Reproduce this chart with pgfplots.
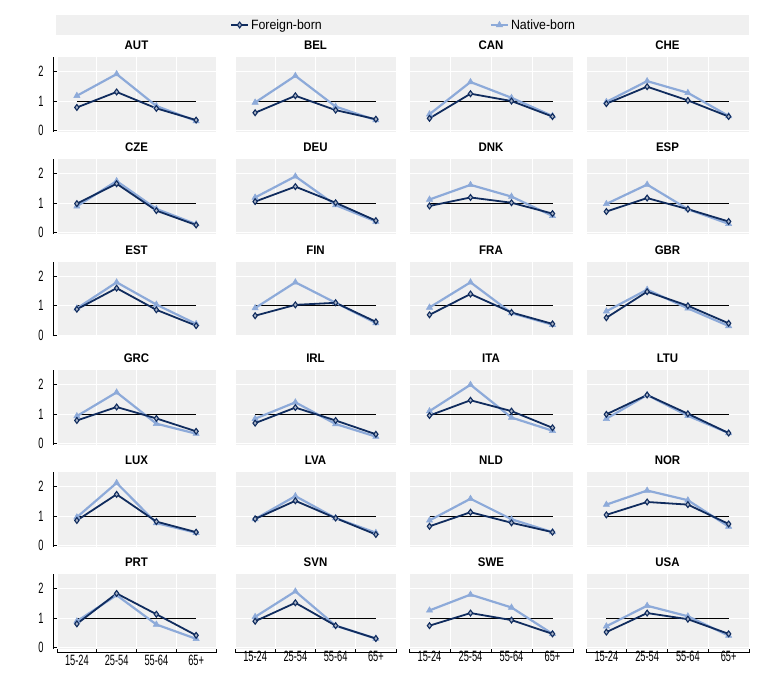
\documentclass[border=0pt]{standalone}
\usepackage{fontspec}
\setmainfont{Liberation Sans}[FakeStretch=0.92]
\newfontfamily\narrowfont{Liberation Sans}[FakeStretch=0.62]
\usepackage{pgfplots}
\pgfplotsset{compat=1.18}
\definecolor{fb}{RGB}{16,44,94}
\definecolor{nb}{RGB}{141,170,217}
\definecolor{bg}{RGB}{240,240,240}
\pgfplotsset{
  panel/.style={
    scale only axis, height=74.7bp, anchor=south west,
    xmin=-0.5, xmax=3.5, ymin=-0.05, ymax=2.5,
    xtick={0,1,2,3}, minor xtick={-0.5,0.5,1.5,2.5,3.5},
    ytick={0,1,2},
    xticklabels={}, yticklabels={},
    axis background/.style={fill=bg},
    ymajorgrids, xminorgrids,
    major grid style={white, line width=1bp},
    minor grid style={white, line width=1bp},
    axis x line*=bottom, axis y line*=left,
    x axis line style={draw=none}, y axis line style={draw=none},
    tick align=outside, major tick length=0pt, minor tick length=0pt,
    major x tick style={draw=none},
    tick style={black, line width=0.8bp},
    ticklabel style={font=\narrowfont\fontsize{15}{17}\selectfont, text=black},
    title style={at={(0.5,1)}, anchor=south, inner sep=1bp, font=\bfseries\fontsize{12.5}{14}\selectfont},
    clip=false,
  },
  leftcol/.style={y axis line style={draw=black, line width=0.8bp, xshift=-4bp}, major tick length=4bp, yticklabels={0,1,2}, yticklabel style={xshift=-6bp}},
  botrow/.style={x axis line style={draw=black, line width=0.8bp, yshift=-4bp}, minor tick length=4bp, xticklabels={15-24,25-54,55-64,65+}, xticklabel style={yshift=1.5bp}},
  refline/.style={black, line width=1bp, no marks, forget plot},
  foreign/.style={fb, line width=1.8bp, mark=diamond*, mark size=2.9bp, mark options={fill=fb!35!white, line width=1.1bp, solid}},
  native/.style={nb, line width=2.2bp, mark=triangle*, mark size=3.6bp, mark options={fill=nb, line width=0.5bp, solid}},
}
\newcommand{\panel}[8]{%
\begin{axis}[panel, at={(#1bp,#2bp)}, width=#3bp, title={#4}, #5]
\addplot[refline] coordinates {(0,1) (3,1)};
\addplot[native] coordinates {#7};
\addplot[foreign] coordinates {#6};
#8
\end{axis}}
\begin{document}
\begin{tikzpicture}
\path[use as bounding box] (0,0) rectangle (783bp,676bp);
\fill[bg] (56bp,641bp) rectangle (749bp,661bp);
% row 1
\panel{57}{544.2}{159}{AUT}{leftcol, reverse legend, legend columns=2,
  legend style={at={(2.18,1.43)}, anchor=center, draw=none, fill=none, font=\fontsize{13.5}{16}\selectfont, /tikz/every even column/.append style={column sep=166bp}}}
  {(0,0.78) (1,1.31) (2,0.75) (3,0.35)}{(0,1.18) (1,1.92) (2,0.83) (3,0.32)}{\legend{Native-born,Foreign-born}}
\panel{235}{544.2}{161}{BEL}{}{(0,0.60) (1,1.18) (2,0.69) (3,0.38)}{(0,0.95) (1,1.86) (2,0.81) (3,0.35)}{}
\panel{409}{544.2}{164}{CAN}{}{(0,0.41) (1,1.25) (2,1.00) (3,0.47)}{(0,0.55) (1,1.65) (2,1.11) (3,0.49)}{}
\panel{586}{544.2}{163}{CHE}{}{(0,0.91) (1,1.49) (2,1.02) (3,0.47)}{(0,0.97) (1,1.68) (2,1.28) (3,0.49)}{}
% row 2
\panel{57}{442.2}{159}{CZE}{leftcol}{(0,0.98) (1,1.66) (2,0.74) (3,0.25)}{(0,0.89) (1,1.75) (2,0.80) (3,0.28)}{}
\panel{235}{442.2}{161}{DEU}{}{(0,1.05) (1,1.56) (2,1.01) (3,0.40)}{(0,1.19) (1,1.91) (2,0.93) (3,0.37)}{}
\panel{409}{442.2}{164}{DNK}{}{(0,0.90) (1,1.19) (2,1.01) (3,0.64)}{(0,1.12) (1,1.62) (2,1.22) (3,0.56)}{}
\panel{586}{442.2}{163}{ESP}{}{(0,0.71) (1,1.17) (2,0.79) (3,0.37)}{(0,0.97) (1,1.63) (2,0.79) (3,0.29)}{}
% row 3
\panel{57}{339.5}{159}{EST}{leftcol}{(0,0.88) (1,1.60) (2,0.86) (3,0.32)}{(0,0.91) (1,1.80) (2,1.04) (3,0.38)}{}
\panel{235}{339.5}{161}{FIN}{}{(0,0.66) (1,1.03) (2,1.10) (3,0.45)}{(0,0.92) (1,1.80) (2,1.10) (3,0.41)}{}
\panel{409}{339.5}{164}{FRA}{}{(0,0.69) (1,1.40) (2,0.77) (3,0.38)}{(0,0.94) (1,1.80) (2,0.75) (3,0.35)}{}
\panel{586}{339.5}{163}{GBR}{}{(0,0.59) (1,1.48) (2,1.00) (3,0.40)}{(0,0.81) (1,1.55) (2,0.91) (3,0.31)}{}
% row 4
\panel{57}{231.2}{159}{GRC}{leftcol}{(0,0.78) (1,1.24) (2,0.85) (3,0.41)}{(0,0.93) (1,1.74) (2,0.67) (3,0.33)}{}
\panel{235}{231.2}{161}{IRL}{}{(0,0.69) (1,1.22) (2,0.78) (3,0.31)}{(0,0.84) (1,1.40) (2,0.66) (3,0.23)}{}
\panel{409}{231.2}{164}{ITA}{}{(0,0.95) (1,1.47) (2,1.10) (3,0.53)}{(0,1.10) (1,2.00) (2,0.88) (3,0.43)}{}
\panel{586}{231.2}{163}{LTU}{}{(0,0.99) (1,1.65) (2,1.01) (3,0.35)}{(0,0.84) (1,1.65) (2,0.94) (3,0.35)}{}
% row 5
\panel{57}{129.2}{159}{LUX}{leftcol}{(0,0.85) (1,1.74) (2,0.81) (3,0.45)}{(0,0.96) (1,2.13) (2,0.76) (3,0.43)}{}
\panel{235}{129.2}{161}{LVA}{}{(0,0.90) (1,1.52) (2,0.93) (3,0.37)}{(0,0.90) (1,1.68) (2,0.93) (3,0.43)}{}
\panel{409}{129.2}{164}{NLD}{}{(0,0.65) (1,1.13) (2,0.77) (3,0.45)}{(0,0.85) (1,1.59) (2,0.89) (3,0.45)}{}
\panel{586}{129.2}{163}{NOR}{}{(0,1.04) (1,1.48) (2,1.39) (3,0.73)}{(0,1.39) (1,1.87) (2,1.54) (3,0.64)}{}
% row 6
\panel{57}{27.2}{159}{PRT}{leftcol, botrow}{(0,0.80) (1,1.84) (2,1.13) (3,0.41)}{(0,0.89) (1,1.78) (2,0.78) (3,0.29)}{}
\panel{235}{27.2}{161}{SVN}{botrow}{(0,0.89) (1,1.52) (2,0.74) (3,0.30)}{(0,1.04) (1,1.91) (2,0.74) (3,0.30)}{}
\panel{409}{27.2}{164}{SWE}{botrow}{(0,0.74) (1,1.17) (2,0.93) (3,0.46)}{(0,1.26) (1,1.80) (2,1.36) (3,0.46)}{}
\panel{586}{27.2}{163}{USA}{botrow}{(0,0.52) (1,1.17) (2,0.96) (3,0.46)}{(0,0.72) (1,1.42) (2,1.06) (3,0.40)}{}
\end{tikzpicture}
\end{document}
